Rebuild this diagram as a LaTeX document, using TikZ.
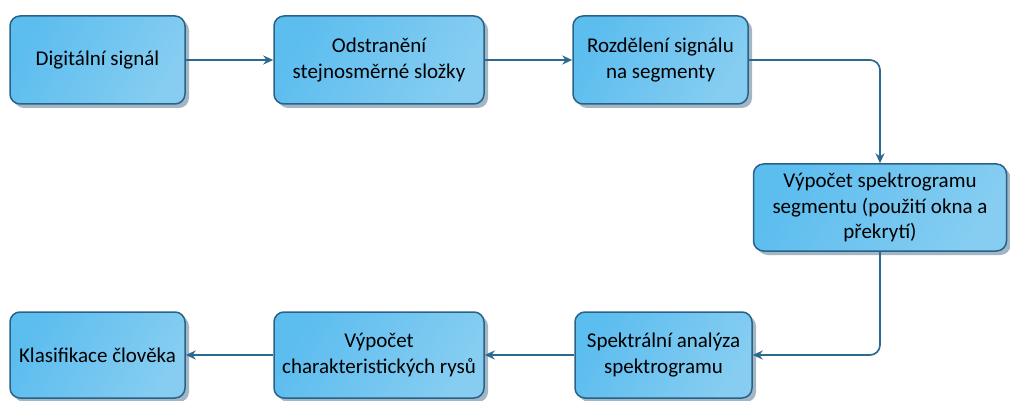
\documentclass[tikz,border=0pt]{standalone}
\usepackage{fontspec}
\setmainfont{Carlito}
\usetikzlibrary{arrows.meta,shadows}
\definecolor{boxdark}{HTML}{5CBDEF}
\definecolor{boxlight}{HTML}{86CDF1}
\definecolor{boxline}{HTML}{2A6287}
\definecolor{shadowgray}{HTML}{A3B6C4}
\definecolor{arrowblue}{HTML}{2B6A90}
\tikzset{
  stage/.style={draw=boxline, line width=1.5pt, rounded corners=10pt,
    left color=boxdark, right color=boxlight, shading angle=60, align=center,
    font=\fontsize{21}{25.5}\selectfont, inner sep=0pt,
    drop shadow={shadow xshift=4pt, shadow yshift=-4pt, fill=shadowgray, opacity=1}},
  flow/.style={draw=arrowblue, line width=1.7pt, rounded corners=10pt,
    -{Stealth[length=10pt,width=9pt]}}
}
\begin{document}
\begin{tikzpicture}[x=1pt,y=1pt,line join=round]
  \useasboundingbox (0,0) rectangle (1010,-401);
  % top row
  \node[stage, minimum width=175, minimum height=88] (sig) at (97.5,-60) {Digitální signál};
  \node[stage, minimum width=210, minimum height=88] (dc) at (379,-60) {Odstranění\\stejnosměrné složky};
  \node[stage, minimum width=175, minimum height=88] (seg) at (660.5,-60) {Rozdělení signálu\\na segmenty};
  % right
  \node[stage, minimum width=253, minimum height=87] (spec) at (880,-207.5) {Výpočet spektrogramu\\segmentu (použití okna a\\překrytí)};
  % bottom row
  \node[stage, minimum width=177, minimum height=86] (ana) at (663.5,-355) {Spektrální analýza\\spektrogramu};
  \node[stage, minimum width=210, minimum height=86] (feat) at (379,-355) {Výpočet\\charakteristických rysů};
  \node[stage, minimum width=175, minimum height=86] (cls) at (97.5,-355) {Klasifikace člověka};
  % connectors
  \draw[flow] (sig) -- (dc);
  \draw[flow] (dc) -- (seg);
  \draw[flow] (seg.east) -| (spec.north);
  \draw[flow] (spec.south) |- (ana.east);
  \draw[flow] (ana) -- (feat);
  \draw[flow] (feat) -- (cls);
\end{tikzpicture}
\end{document}
